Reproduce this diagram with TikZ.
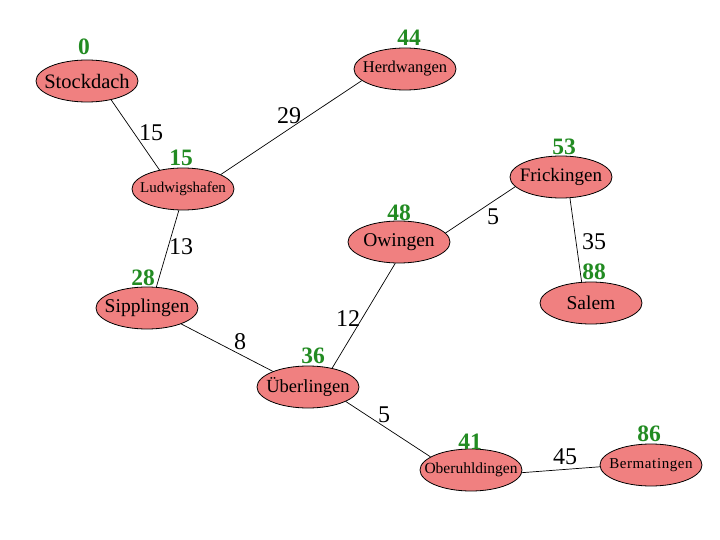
\documentclass[tikz,border=0pt]{standalone}
\usepackage{fontspec}
\setmainfont{Liberation Serif}
\usepackage{tikz}
\usetikzlibrary{shapes.geometric, positioning}
\definecolor{town_red}{HTML}{F08080}
\definecolor{cost_green}{HTML}{228B22}
\newcommand{\fsz}[1]{\fontsize{#1}{#1}\selectfont}
\tikzset{
  town/.style={ellipse,draw=black,line width=0.8pt,fill=town_red,inner ysep=0pt,inner xsep=-15pt,
    minimum width=102pt,minimum height=42pt,font=\fsz{19.5}},
  town_s/.style={town,font=\fsz{15}},
  cost/.style={text=cost_green,inner sep=0pt,font=\bfseries\fsz{23.5}},
  dist/.style={inner sep=0pt,font=\fsz{24}},
  road/.style={line width=0.7pt,black},
}

\begin{document}
\begin{tikzpicture}[x=1pt,y=-1pt]
	    \useasboundingbox (0,0) rectangle (720,540);
	    \node[town,font=\fsz{20.5}] (T1) at (87,81) {Stockdach};
	    \node[town,font=\fsz{16.5}] (T2) at (405,69) {Herdwangen};
	    \node[town_s] (T3) at (183,189) {Ludwigshafen};
	    \node[town,font=\fsz{19}] (T4) at (561,177) {Frickingen};
	    \node[town] (T5) at (399,242) {Owingen};
	    \node[town] (T6) at (147,308) {Sipplingen};
	    \node[town] (T7) at (591,303) {Salem};
	    \node[town,font=\fsz{18.5}] (T8) at (308,387) {Überlingen};
	    \node[town_s,font=\fsz{15.5}] (T9) at (471,470) {Oberuhldingen};
	    \node[town_s,font=\fsz{15}\addfontfeatures{LetterSpace=4}] (T10) at (651,465) {Bermatingen};
	    % accumulated costs
	    \node[cost] (G1) at (84,47) {0};
	    \node[cost] (G2) at (409,38) {44};
	    \node[cost] (G3) at (181,158) {15};
	    \node[cost] (G4) at (564,147) {53};
	    \node[cost] (G5) at (399,213) {48};
	    \node[cost] (G6) at (143,278) {28};
	    \node[cost] (G7) at (594,272) {88};
	    \node[cost] (G8) at (313,356) {36};
	    \node[cost] (G9) at (470,442) {41};
	    \node[cost] (G10) at (649,434) {86};
	    % roads
	    \draw[road] (T1.-38) -- (T3.141);
	    \draw[road] (T3.21) -- (T2.195);
	    \draw[road] (T3.-101) -- (T6.66);
	    \draw[road] (T5.11) -- (T4.192);
	    \draw[road] (T4.-67) -- (T7.114);
	    \draw[road] (T5.-100) -- (T8.38);
	    \draw[road] (T6.-25) -- (T8.156);
	    \draw[road] (T8.-21) -- (T9.162);
	    \draw[road] (T9.-3) -- (T10.182);
	    % distances
	    \node[dist] (D1) at (151,133) {15};
	    \node[dist] (D2) at (289,116) {29};
	    \node[dist] (D3) at (181,247) {13};
	    \node[dist] (D4) at (493,217) {5};
	    \node[dist] (D5) at (594,242) {35};
	    \node[dist] (D6) at (348,319) {12};
	    \node[dist] (D7) at (240,342) {8};
	    \node[dist] (D8) at (384,415) {5};
	    \node[dist] (D9) at (565,457) {45};
	\end{tikzpicture}
\end{document}
